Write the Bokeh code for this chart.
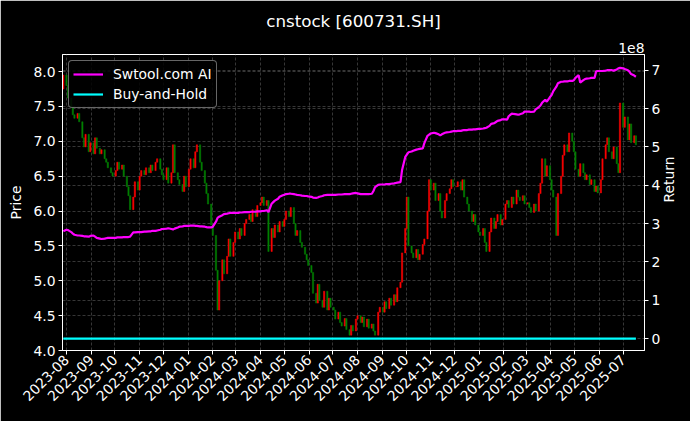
import numpy as np
import pandas as pd
from datetime import datetime
from bokeh.plotting import figure
from bokeh.models import (Range1d, LinearAxis, FixedTicker, DatetimeTickFormatter,
                          Title, Grid, ColumnDataSource, NumeralTickFormatter)
from bokeh.embed import file_html
from bokeh.resources import INLINE

# ---------------- data ----------------
first_date = "2023-07-28"     # bars every 2 trading days
first_open = 7.75

close = [
    7.95,
    7.80, 7.62, 7.50, 7.38, 7.33, 7.40, 7.28, 7.05, 6.92, 7.10, 6.85, 6.98,
    6.82, 7.05, 6.90, 6.82, 6.88, 6.75, 6.70, 6.62, 6.55, 6.50,
    6.58, 6.70, 6.60, 6.66, 6.50, 6.35, 6.22, 6.02, 6.20, 6.42, 6.30,
    6.50, 6.58, 6.52, 6.62, 6.55, 6.66, 6.58, 6.70, 6.75, 6.60, 6.52,
    6.45, 6.62, 6.40, 6.55, 6.95, 6.55, 6.45, 6.38, 6.28, 6.50, 6.35,
    6.60, 6.75, 6.62, 6.85, 6.95, 6.70, 6.58, 6.40, 6.25, 6.10, 5.80,
    5.65, 5.15, 4.58, 5.00, 5.30, 5.10, 5.35, 5.60, 5.35, 5.55, 5.70,
    5.60, 5.75, 5.65, 5.82, 5.88, 5.95, 5.85, 6.02, 5.92, 6.08,
    6.12, 6.20, 6.08, 6.15, 5.42, 5.75, 5.62, 5.80, 5.70, 5.85, 5.78,
    5.88, 6.00, 5.92, 6.05, 5.82, 5.65, 5.72, 5.55, 5.48, 5.38, 5.30, 5.22,
    5.12, 4.82, 4.68, 4.95, 4.72, 4.62, 4.85, 4.58, 4.75, 4.62,
    4.58, 4.45, 4.55, 4.40, 4.35, 4.46, 4.30, 4.22, 4.36, 4.28, 4.45,
    4.50, 4.40, 4.48, 4.34, 4.45, 4.32, 4.38, 4.28, 4.22, 4.55, 4.62,
    4.55, 4.70, 4.60, 4.75, 4.65, 4.80, 4.70, 4.90, 4.98, 5.40, 5.75,
    6.20, 5.50, 5.40, 5.33, 5.45, 5.30, 5.38, 5.52, 5.60, 6.00, 6.45,
    6.30, 6.40, 6.15, 6.25, 6.00, 5.90, 6.15, 6.25, 6.32, 6.45, 6.35,
    6.35, 6.42, 6.30, 6.45, 6.20, 6.10, 6.00, 5.85, 5.95, 5.80, 5.70,
    5.65, 5.75, 5.55, 5.42, 5.70, 5.90, 5.75, 5.85, 5.95, 5.80, 5.88,
    6.10, 6.15, 6.05, 6.20, 6.10, 6.30, 6.20, 6.15, 6.22, 6.10,
    6.12, 6.05, 5.98, 6.10, 6.00, 6.25, 6.40, 6.75, 6.50, 6.65, 6.45,
    6.30, 6.20, 5.65, 6.25, 6.50, 6.80, 6.95, 6.85, 7.12, 7.00, 6.85,
    6.60, 6.50, 6.68, 6.55, 6.45, 6.52, 6.38, 6.45, 6.28, 6.36, 6.26,
    6.45, 6.75, 6.95, 7.05, 6.85, 6.75, 6.92, 6.68, 6.55, 7.55,
    7.20, 7.35, 7.02, 7.25, 6.98, 7.08, 6.95,
]

# strategy return, in units of 1e8
strategy_1e8 = [
    2.80,
    2.84, 2.83, 2.78, 2.74, 2.71, 2.69, 2.69, 2.68, 2.67, 2.67, 2.66, 2.68,
    2.69, 2.66, 2.63, 2.61, 2.60, 2.61, 2.62, 2.63, 2.63, 2.63,
    2.63, 2.64, 2.64, 2.64, 2.65, 2.65, 2.65, 2.66, 2.77, 2.77, 2.78,
    2.78, 2.78, 2.79, 2.79, 2.80, 2.80, 2.81, 2.81, 2.82, 2.84, 2.86,
    2.86, 2.87, 2.88, 2.86, 2.85, 2.87, 2.90, 2.92, 2.93, 2.94, 2.94,
    2.94, 2.95, 2.95, 2.94, 2.94, 2.93, 2.93, 2.92, 2.91, 2.90, 2.90,
    2.92, 3.05, 3.15, 3.18, 3.22, 3.25, 3.26, 3.27, 3.28, 3.28, 3.28,
    3.28, 3.29, 3.29, 3.30, 3.30, 3.30, 3.31, 3.31, 3.31, 3.32,
    3.32, 3.33, 3.33, 3.35, 3.30, 3.52, 3.56, 3.60, 3.65, 3.70, 3.74,
    3.75, 3.77, 3.78, 3.78, 3.77, 3.76, 3.75, 3.74, 3.73, 3.72, 3.72, 3.71,
    3.70, 3.68, 3.67, 3.68, 3.70, 3.72, 3.74, 3.75, 3.75, 3.75,
    3.75, 3.75, 3.76, 3.76, 3.76, 3.77, 3.77, 3.77, 3.78, 3.79, 3.80,
    3.79, 3.77, 3.77, 3.77, 3.77, 3.77, 3.78, 3.85, 3.95, 4.01, 4.02,
    4.02, 4.02, 4.03, 4.03, 4.04, 4.05, 4.06, 4.07, 4.08, 4.40, 4.74,
    4.80, 4.86, 4.88, 4.90, 4.93, 4.94, 4.95, 4.96, 5.10, 5.29, 5.32,
    5.35, 5.37, 5.36, 5.33, 5.30, 5.33, 5.37, 5.38, 5.39, 5.40, 5.41,
    5.41, 5.42, 5.42, 5.43, 5.44, 5.44, 5.45, 5.45, 5.46, 5.46, 5.47,
    5.47, 5.48, 5.49, 5.50, 5.55, 5.60, 5.62, 5.65, 5.68, 5.70, 5.72,
    5.72, 5.71, 5.80, 5.87, 5.86, 5.85, 5.84, 5.85, 5.88, 5.92,
    5.92, 5.92, 5.91, 5.92, 5.98, 6.04, 6.08, 6.15, 6.23, 6.18, 6.30,
    6.35, 6.45, 6.57, 6.66, 6.70, 6.70, 6.71, 6.71, 6.72, 6.72, 6.74,
    6.80, 6.87, 6.68, 6.74, 6.77, 6.78, 6.79, 6.80, 6.80, 6.97, 6.98,
    6.98, 6.98, 6.99, 7.00, 7.00, 7.00, 6.99, 7.02, 7.05, 7.06,
    7.05, 7.03, 7.00, 6.96, 6.90, 6.86, 6.83,
]

month_labels = ["2023-08", "2023-09", "2023-10", "2023-11", "2023-12",
                "2024-01", "2024-02", "2024-03", "2024-04", "2024-05", "2024-06",
                "2024-07", "2024-08", "2024-09", "2024-10", "2024-11", "2024-12",
                "2025-01", "2025-02", "2025-03", "2025-04", "2025-05", "2025-06",
                "2025-07"]
price_ticks = [4.0, 4.5, 5.0, 5.5, 6.0, 6.5, 7.0, 7.5, 8.0]
return_ticks = [0, 1, 2, 3, 4, 5, 6, 7]

# ---------------- derived ----------------
n = len(close)
dates = pd.bdate_range(first_date, periods=2 * n, freq="B")[::2][:n]
opens = [first_open] + close[:-1]
top = [max(o, c) for o, c in zip(opens, close)]
bot = [min(o, c) for o, c in zip(opens, close)]
col = ["#ff0000" if c >= o else "#008000" for o, c in zip(opens, close)]
buy_hold = np.array(close) / close[0]          # raw return ratio
buy_hold_1e8 = buy_hold / 1e8

src = ColumnDataSource(dict(x=dates, top=top, bot=bot, col=col,
                            strat=strategy_1e8, bh=buy_hold_1e8))

month_ms = [pd.Timestamp(m + "-01").timestamp() * 1000 for m in month_labels]

FONT = "DejaVu Sans"
TICK = "13.9px"

p = figure(width=690, height=421, x_axis_type="datetime",
           x_range=Range1d(datetime(2023, 7, 27, 0), datetime(2025, 7, 27, 20)),
           y_range=Range1d(4.0, 8.245),
           output_backend="svg", toolbar_location=None, title=None,
           min_border_left=62, min_border_right=46, min_border_top=49,
           min_border_bottom=71,
           background_fill_color="black", border_fill_color="black")
p.outline_line_color = "white"
p.outline_line_width = 1

p.extra_y_ranges = {"ret": Range1d(-0.308, 7.41)}
rax = LinearAxis(y_range_name="ret", ticker=FixedTicker(ticks=return_ticks),
                 axis_label="Return")
p.add_layout(rax, "right")

p.xaxis.ticker = FixedTicker(ticks=month_ms)
fmt = "%Y-%m"
p.xaxis.formatter = DatetimeTickFormatter(years=fmt, months=fmt, days=fmt,
                                          hours=fmt, hourmin=fmt, minutes=fmt)
p.xaxis.major_label_orientation = np.pi / 4
p.yaxis[0].ticker = FixedTicker(ticks=price_ticks)
p.yaxis[0].formatter = NumeralTickFormatter(format="0.0")
p.yaxis[0].axis_label = "Price"

for ax in [p.xaxis[0], p.yaxis[0], rax]:
    ax.axis_line_color = "white"
    ax.major_tick_line_color = "white"
    ax.minor_tick_line_color = None
    ax.major_tick_out = 4
    ax.major_tick_in = 0
    ax.major_label_text_color = "white"
    ax.major_label_text_font = FONT
    ax.major_label_text_font_size = TICK
    ax.axis_label_text_color = "white"
    ax.axis_label_text_font = FONT
    ax.axis_label_text_font_size = TICK
    ax.axis_label_text_font_style = "normal"
    ax.major_label_standoff = 3
    ax.axis_label_standoff = 6

# right axis label reads bottom-to-top, as in the reference
rax.axis_label_orientation = np.pi / 2

GRID = dict(grid_line_color="#5a5a5a", grid_line_width=0.6, grid_line_dash="3 2")
p.xgrid.ticker = FixedTicker(ticks=month_ms)
p.ygrid.ticker = FixedTicker(ticks=price_ticks)
for g in [p.xgrid[0], p.ygrid[0]]:
    for k, v in GRID.items():
        setattr(g, k, v)
p.add_layout(Grid(dimension=1, ticker=FixedTicker(ticks=return_ticks),
                  y_range_name="ret", **GRID), "center")

# candles
bar_w = 1.6 * 24 * 3600 * 1000
p.vbar(x="x", top="top", bottom="bot", width=bar_w, source=src,
       fill_color="col", line_color="col", line_width=0.5)

p.line("x", "strat", source=src, y_range_name="ret", line_color="#ff00ff",
       line_width=2.2, legend_label="Swtool.com AI")
p.line("x", "bh", source=src, y_range_name="ret", line_color="#00ffff",
       line_width=2.2, legend_label="Buy-and-Hold")

lg = p.legend[0]
lg.location = "top_left"
lg.margin = 6
lg.padding = 4
lg.spacing = 2
lg.glyph_width = 30
lg.glyph_height = 18
lg.label_height = 18
lg.label_standoff = 10
lg.label_text_color = "white"
lg.label_text_font = FONT
lg.label_text_font_size = TICK
lg.background_fill_color = "black"
lg.background_fill_alpha = 0.85
lg.border_line_color = "#cccccc"
lg.border_line_width = 1
if "border_radius" in lg.properties():
    lg.border_radius = 4

p.add_layout(Title(text="1e8", align="right", text_color="white",
                   text_font=FONT, text_font_size=TICK, text_font_style="normal",
                   standoff=4), "above")
p.add_layout(Title(text="cnstock [600731.SH]", align="center", text_color="white",
                   text_font=FONT, text_font_size="16.7px", text_font_style="normal",
                   standoff=16), "above")

open("out.html", "w").write(file_html(p, INLINE))
